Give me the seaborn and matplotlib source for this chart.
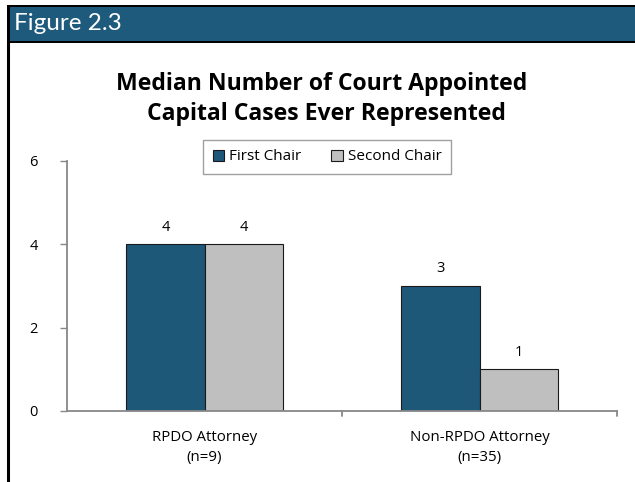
import matplotlib
matplotlib.use("Agg")
import matplotlib.pyplot as plt
import seaborn as sns
import pandas as pd
from matplotlib.patches import Rectangle
from matplotlib.lines import Line2D

categories = ["RPDO Attorney\n(n=9)", "Non-RPDO Attorney\n(n=35)"]
series = ["First Chair", "Second Chair"]
first_chair = [4, 3]
second_chair = [4, 1]
yticks = [0, 2, 4, 6]

colors = {"First Chair": "#1E5879", "Second Chair": "#BFBFBF"}

df = pd.DataFrame({
    "cat": categories * 2,
    "series": [series[0]] * 2 + [series[1]] * 2,
    "value": first_chair + second_chair,
})

sns.set_theme(style="white")
plt.rcParams["font.family"] = ["Open Sans", "DejaVu Sans"]
plt.rcParams["text.color"] = "black"
plt.rcParams["xtick.color"] = "black"
plt.rcParams["ytick.color"] = "black"

W, H = 635, 482
fig = plt.figure(figsize=(W / 100, H / 100), dpi=100)
fig.patch.set_facecolor("white")

# header band
fig.patches.append(Rectangle((7 / W, 1 - 43 / H), 1 - 7 / W, 38 / H,
                             transform=fig.transFigure, facecolor="black",
                             edgecolor="none", zorder=0))
fig.patches.append(Rectangle((10 / W, 1 - 41 / H), 1 - 10 / W, 34 / H,
                             transform=fig.transFigure, facecolor="#1E5A7B",
                             edgecolor="none", zorder=1))
fig.lines.append(Line2D([8 / W, 8 / W], [0, 1 - 42 / H], transform=fig.transFigure,
                        color="black", linewidth=2.2))
fig.text(14 / W, 1 - 23 / H, "Figure 2.3", color="white", fontsize=17.5,
         va="center", ha="left", family=["Lato", "DejaVu Sans"])

ax = fig.add_axes([67 / W, 1 - 411 / H, (617 - 67) / W, (411 - 161) / H])
sns.barplot(data=df, x="cat", y="value", hue="series", palette=colors,
            hue_order=series, order=categories, width=0.57, saturation=1,
            edgecolor="#1a1a1a", linewidth=0.8, ax=ax, legend=True)

ax.set_ylim(0, 6)
ax.set_xlim(-0.5, 1.5)
ax.set_yticks(yticks)
ax.set_yticklabels([str(t) for t in yticks], fontsize=10.5, color="black")
ax.set_xlabel("")
ax.set_ylabel("")
ax.tick_params(axis="x", length=0, labelsize=10.8, pad=14, labelcolor="black")
for lbl in ax.get_xticklabels():
    lbl.set_linespacing(1.45)
ax.tick_params(axis="y", length=5, color="#888888", width=1, pad=16, left=True,
               labelcolor="black")
for s in ["top", "right"]:
    ax.spines[s].set_visible(False)
for s in ["left", "bottom"]:
    ax.spines[s].set_color("#888888")
    ax.spines[s].set_linewidth(1.3)
# category divider ticks on x-axis
for xv in [0.5, 1.5]:
    ax.plot([xv, xv], [0, -0.12], color="#888888", linewidth=1.3, clip_on=False)

for cont in ax.containers:
    ax.bar_label(cont, labels=[f"{v:g}" for v in cont.datavalues], padding=7,
                 fontsize=10.5, color="black")

leg = ax.legend(loc="center", bbox_to_anchor=((327 - 67) / 550, (411 - 157) / 250), ncol=2,
                frameon=True, fontsize=11, handlelength=0.75, handleheight=0.75,
                handletextpad=0.3, columnspacing=2.0, borderpad=0.6, fancybox=False,
                borderaxespad=0)
for t in leg.get_texts():
    t.set_color("black")
leg.get_frame().set_edgecolor("#888888")
leg.get_frame().set_linewidth(1.0)

fig.text(322 / W, 1 - 84 / H, "Median Number of Court Appointed",
         ha="center", va="center", fontsize=16.6, fontweight="bold", color="black")
fig.text(326 / W, 1 - 114 / H, "Capital Cases Ever Represented",
         ha="center", va="center", fontsize=16.6, fontweight="bold", color="black")

fig.savefig("out.png", dpi=100)
